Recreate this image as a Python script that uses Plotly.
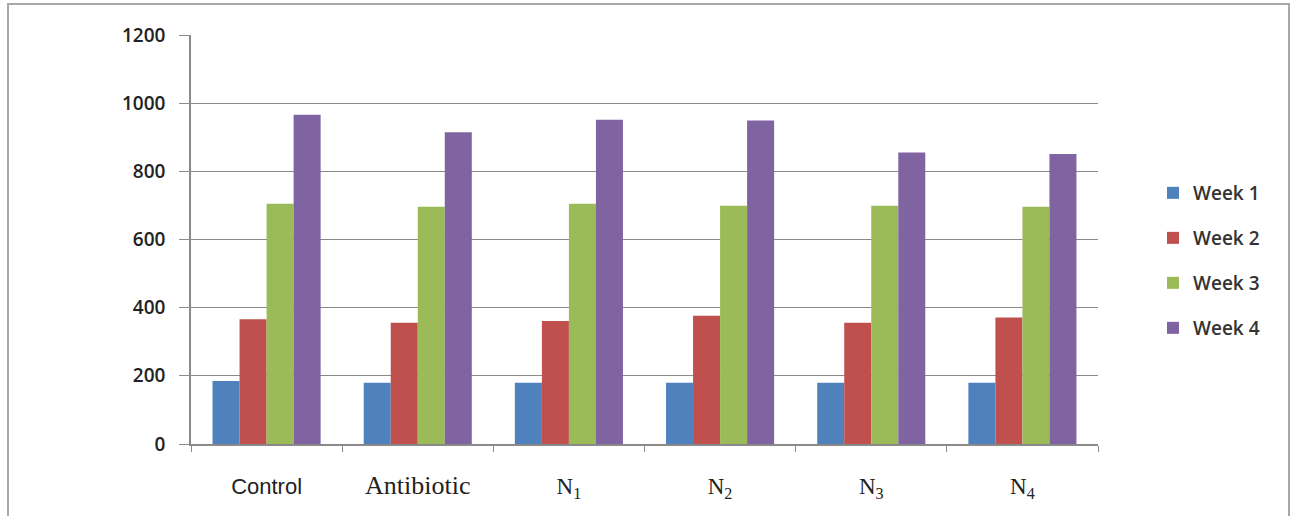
import plotly.graph_objects as go

# Treatment groups and weekly measurements
categories = ["Control", "Antibiotic", "N1", "N2", "N3", "N4"]
category_labels = [
    "Control",
    "<span style='font-family:Liberation Serif;font-size:26px'>Antibiotic</span>",
    "<span style='font-family:Liberation Serif;font-size:23px'>N<sub>1</sub></span>",
    "<span style='font-family:Liberation Serif;font-size:23px'>N<sub>2</sub></span>",
    "<span style='font-family:Liberation Serif;font-size:23px'>N<sub>3</sub></span>",
    "<span style='font-family:Liberation Serif;font-size:23px'>N<sub>4</sub></span>",
]
series_names = ["Week 1", "Week 2", "Week 3", "Week 4"]
week1 = [185, 180, 180, 180, 180, 180]
week2 = [366, 356, 361, 376, 356, 371]
week3 = [705, 696, 705, 699, 699, 696]
week4 = [966, 915, 951, 949, 855, 851]
y_ticks = [0, 200, 400, 600, 800, 1000, 1200]

colors = ["#4F81BD", "#C0504D", "#9BBB59", "#8064A2"]

fig = go.Figure()
for i, (name, vals) in enumerate(zip(series_names, [week1, week2, week3, week4])):
    fig.add_trace(go.Bar(
        x=categories, y=vals, name=name,
        marker=dict(color=colors[i], line=dict(width=0)),
        legendgroup=name,
    ))

# plot area geometry in pixels
W, H = 1291, 516
L, R, T, B = 191, 193, 35, 72
pw, ph = W - L - R, H - T - B

fig.update_layout(
    width=W, height=H,
    margin=dict(l=L, r=R, t=T, b=B),
    paper_bgcolor="white", plot_bgcolor="white",
    barmode="group", bargap=0.285, bargroupgap=0,
    font=dict(family="Open Sans", size=15, color="#222222"),
    showlegend=True,
    legend=dict(
        x=(1153 - L) / pw, y=(445 - 175) / ph, xanchor="left", yanchor="top",
        font=dict(family="Open Sans", size=19, color="#333333", weight=600),
        tracegroupgap=17.3, itemwidth=30,
        bgcolor="rgba(0,0,0,0)",
    ),
    xaxis=dict(
        type="category",
        tickvals=categories, ticktext=category_labels,
        tickson="boundaries", ticks="outside", ticklen=6, tickcolor="#8a8a8a",
        showline=True, linecolor="#8a8a8a", linewidth=1.5,
        tickfont=dict(family="Liberation Sans", size=22, color="#222222"),
        ticklabelstandoff=22,
        showgrid=False,
    ),
    yaxis=dict(
        range=[0, 1200], tickvals=y_ticks,
        ticks="outside", ticklen=10, tickcolor="#8a8a8a",
        showline=True, linecolor="#8a8a8a", linewidth=1.5,
        showgrid=True, gridcolor="#8a8a8a", gridwidth=1.3,
        tickfont=dict(family="Open Sans", size=19, color="#222222", weight=600),
        ticklabelstandoff=10,
        zeroline=False,
    ),
)

# outer frame around the chart
fig.add_shape(
    type="rect", xref="paper", yref="paper",
    x0=(8 - L) / pw, x1=(1289 - L) / pw,
    y0=-0.5, y1=(H - B - 4) / ph,
    line=dict(color="#a8a8a8", width=2), layer="below",
)

fig.write_html("out.html")
